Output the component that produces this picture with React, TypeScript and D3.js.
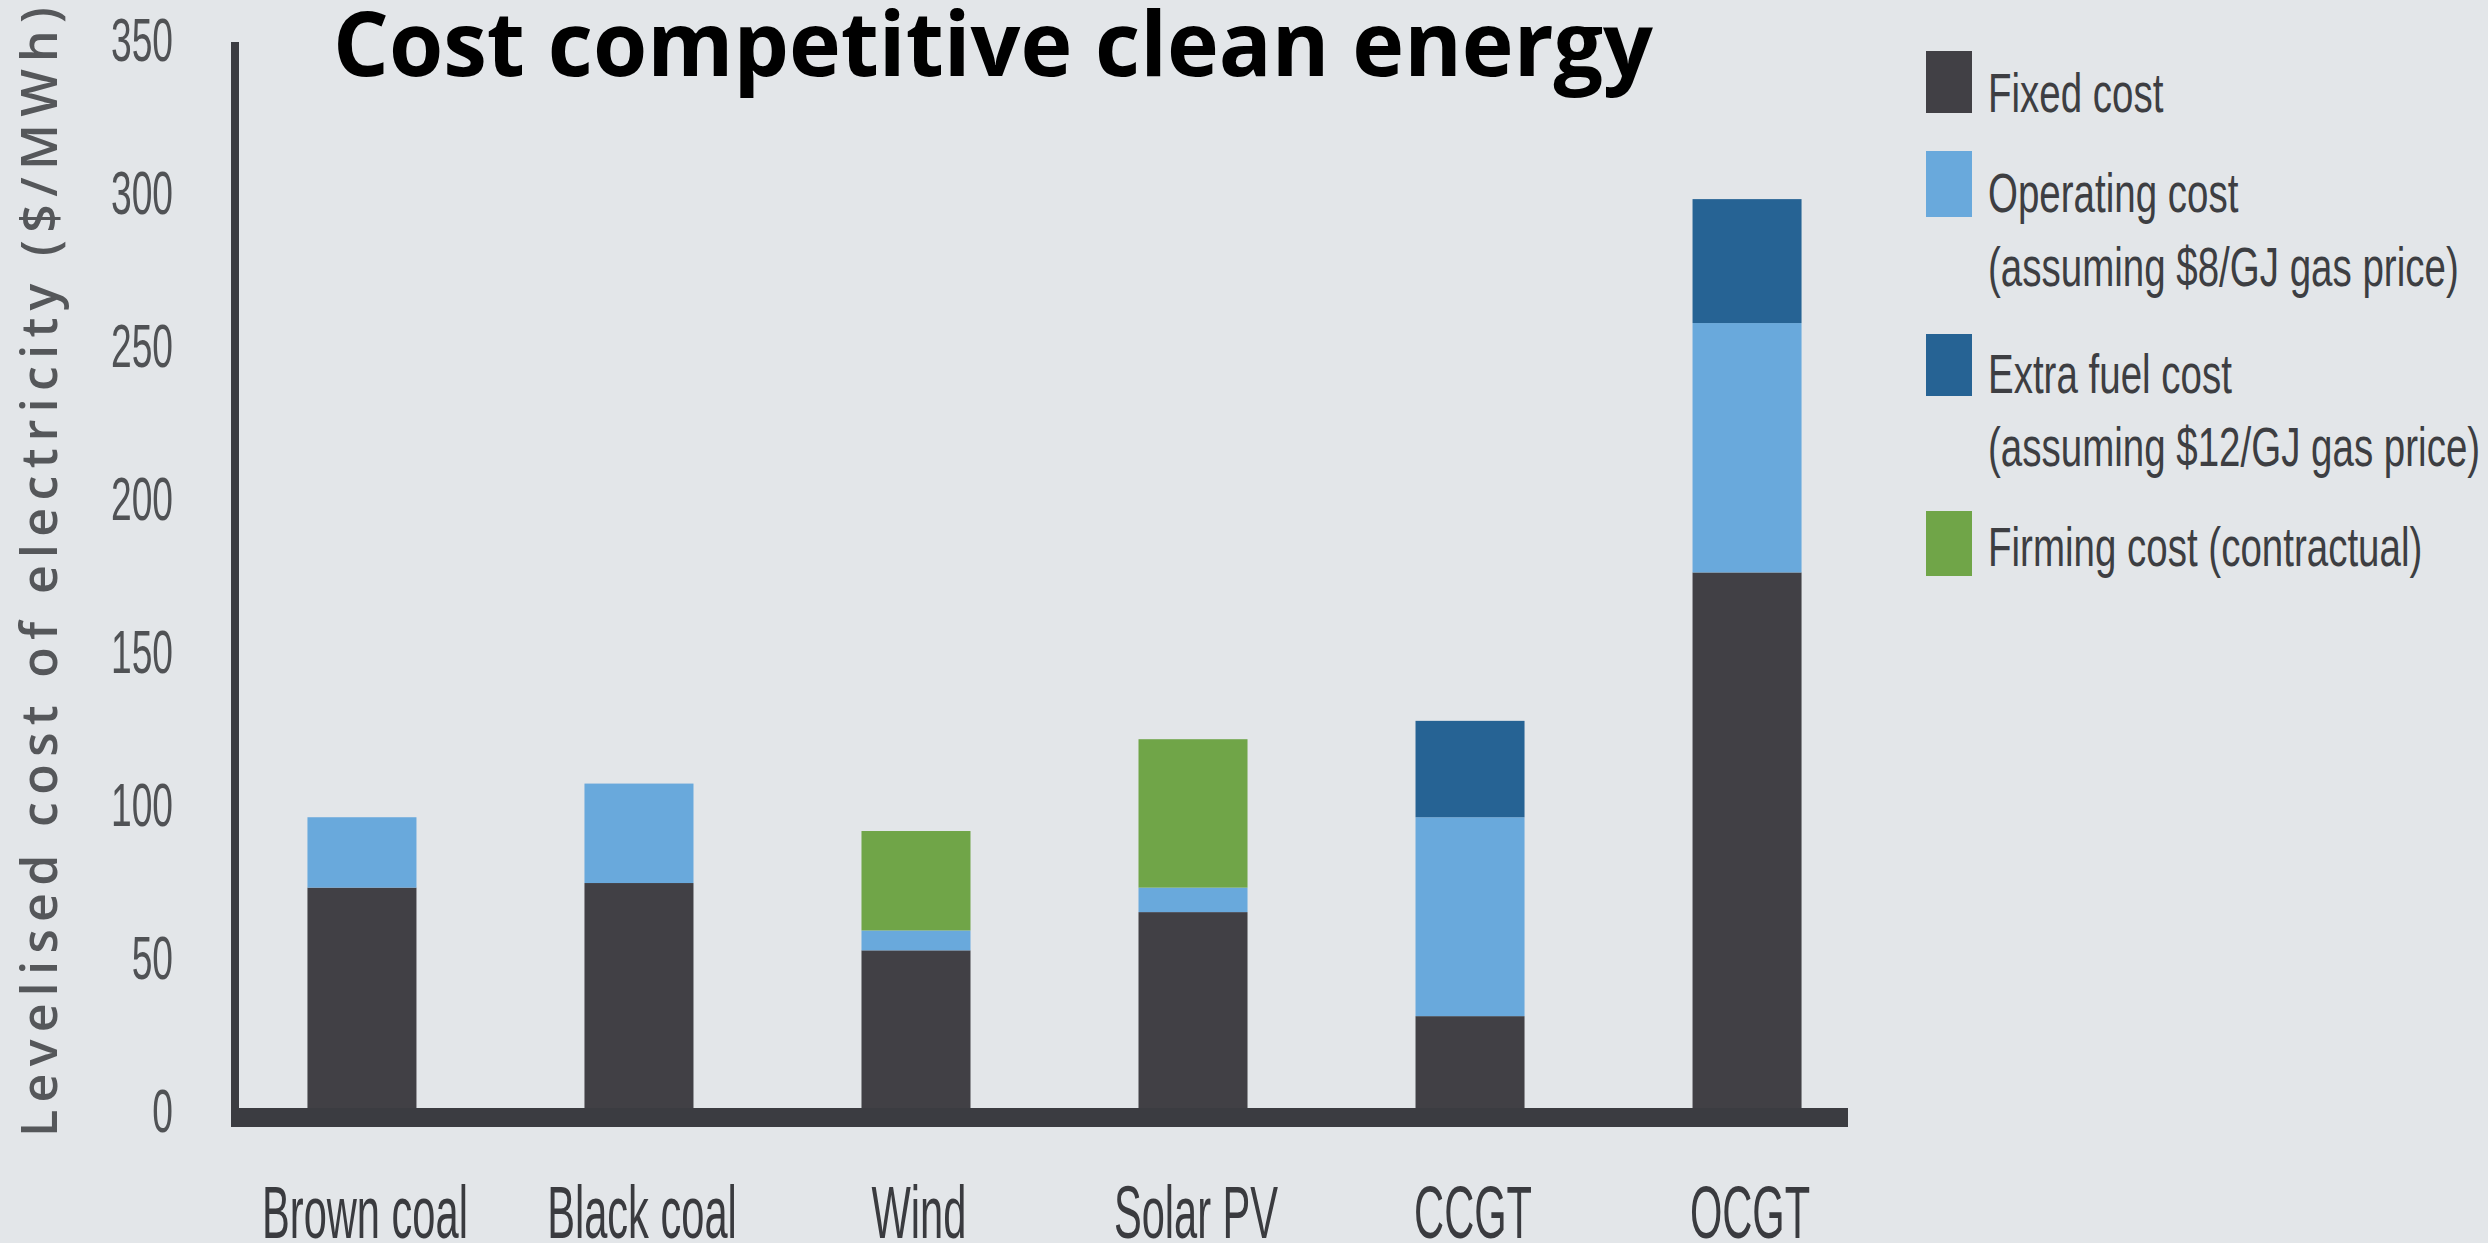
import React from "react";
import * as d3 from "d3";

const categories = ["Brown coal", "Black coal", "Wind", "Solar PV", "CCGT", "OCGT"];
const fixedCost = [73, 74.5, 52.5, 65, 31, 176];
const operatingCost = [23, 32.5, 6.5, 8, 65, 81.5];
const extraFuelCost = [0, 0, 0, 0, 31.5, 40.5];
const firmingCost = [0, 0, 32.5, 48.5, 0, 0];
const yTicks = [0, 50, 100, 150, 200, 250, 300, 350];
const seriesKeys = ["fixed", "operating", "extra", "firming"];
const legendLines = [
  ["Fixed cost"],
  ["Operating cost", "(assuming $8/GJ gas price)"],
  ["Extra fuel cost", "(assuming $12/GJ gas price)"],
  ["Firming cost (contractual)"],
];
const title = "Cost competitive clean energy";
const yTitle = "Levelised cost of electricity ($/MWh)";

const W = 2488;
const H = 1243;
const BG = "#e3e6e9";
const AXIS = "#3b3c41";
const colors: Record<string, string> = {
  fixed: "#414045",
  operating: "#69a9dc",
  extra: "#266394",
  firming: "#70a548",
};

export default function App() {
  const rows = categories.map((c, i) => ({
    cat: c,
    fixed: fixedCost[i],
    operating: operatingCost[i],
    extra: extraFuelCost[i],
    firming: firmingCost[i],
  }));
  const stack = d3.stack<any>().keys(seriesKeys)(rows);

  const x = d3.scaleBand().domain(categories).range([231, 1878]).paddingInner(0.6065).paddingOuter(0.276);
  const y = d3.scaleLinear().domain([0, 350]).range([1111, 40]);

  const legendRectTops = [51, 151, 334, 511];
  const legendRectH = [62, 66, 62, 65];
  const legendBaselines = [[112], [212, 286], [393, 466], [566]];

  return (
    <svg width={W} height={H} style={{ position: "absolute", left: 0, top: 0, display: "block" }}>
      <rect x={0} y={0} width={W} height={H} fill={BG} />

      {/* title */}
      <text x={333} y={76} fontFamily="'Open Sans', sans-serif" fontWeight={700} fontSize={90}
        fill="#000" textLength={1320} lengthAdjust="spacingAndGlyphs">{title}</text>

      {/* y axis title */}
      <text transform="translate(57,1137) rotate(-90)" fontFamily="'Open Sans', sans-serif" fontSize={50}
        fontWeight={600} fill="#55575a" textLength={1130} lengthAdjust="spacing">{yTitle}</text>

      {/* y tick labels */}
      {yTicks.map((t) => (
        <g key={t} transform={`translate(173,${y(t)}) scale(0.6,1)`}>
          <text x={0} y={0} textAnchor="end" dominantBaseline="central" fontFamily="'Liberation Sans', sans-serif"
            fontSize={62} fill="#505255">{t}</text>
        </g>
      ))}

      {/* bars */}
      {stack.map((s) => (
        <g key={s.key} fill={colors[s.key]}>
          {s.map((d, i) =>
            d[1] - d[0] > 0 ? (
              <rect key={i} x={x(categories[i])} width={x.bandwidth()} y={y(d[1])}
                height={y(d[0]) - y(d[1]) + (d[0] === 0 ? 10 : 0)} />
            ) : null
          )}
        </g>
      ))}

      {/* axes */}
      <rect x={231} y={42} width={8} height={1085} fill={AXIS} />
      <rect x={231} y={1108} width={1617} height={19} fill={AXIS} />

      {/* x labels */}
      {categories.map((c) => (
        <g key={c} transform={`translate(${(x(c) as number) + x.bandwidth() / 2 + 3},1238) scale(0.555,1)`}>
          <text x={0} y={0} textAnchor="middle" fontFamily="'Liberation Sans', sans-serif" fontSize={75}
            fill="#3a3b3f">{c}</text>
        </g>
      ))}

      {/* legend */}
      {seriesKeys.map((k, i) => (
        <g key={k}>
          <rect x={1926} y={legendRectTops[i]} width={46} height={legendRectH[i]} fill={colors[k]} />
          {legendLines[i].map((line, j) => (
            <g key={j} transform={`translate(1988,${legendBaselines[i][j]}) scale(0.7,1)`}>
              <text x={0} y={0} fontFamily="'Liberation Sans', sans-serif" fontSize={55} fill="#3d3e42">{line}</text>
            </g>
          ))}
        </g>
      ))}
    </svg>
  );
}
